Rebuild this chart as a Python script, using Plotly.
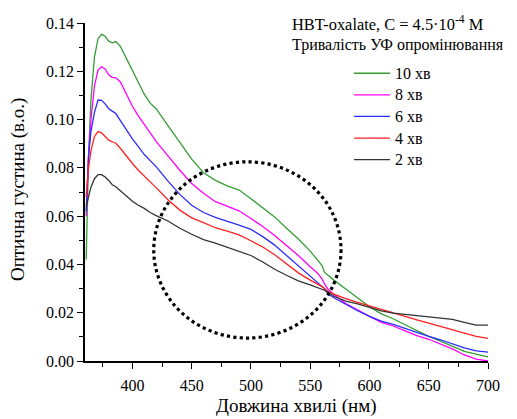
import plotly.graph_objects as go

wavelength = [361, 363, 365, 368, 371, 374, 377, 380, 383, 386, 390, 395, 400, 405, 410, 415, 420,
              430, 440, 450, 460, 470, 480, 490, 500, 510, 520, 530, 540, 550, 556, 560, 562, 565,
              570, 580, 590, 600, 610, 620, 630, 640, 650, 660, 670, 680, 690, 700]

od_10min = [0.042, 0.085, 0.108, 0.126, 0.1335, 0.1353, 0.1345, 0.1325, 0.1318, 0.1323, 0.1302, 0.1252,
            0.1200, 0.1150, 0.1105, 0.1068, 0.1045, 0.0975, 0.0905, 0.0836, 0.0780, 0.0748, 0.0725,
            0.0708, 0.0672, 0.0635, 0.0597, 0.0550, 0.0505, 0.0455, 0.0418, 0.0395, 0.0368, 0.0355,
            0.0335, 0.0298, 0.0260, 0.0225, 0.0195, 0.0175, 0.0150, 0.0125, 0.0102, 0.0082, 0.0060,
            0.0040, 0.0028, 0.0017]

od_8min = [0.060, 0.085, 0.100, 0.114, 0.1205, 0.1219, 0.1210, 0.1185, 0.1175, 0.1173, 0.1155, 0.1105,
           0.1055, 0.1015, 0.0980, 0.0945, 0.0910, 0.0850, 0.0790, 0.0735, 0.0695, 0.0660, 0.0640,
           0.0622, 0.0590, 0.0557, 0.0520, 0.0480, 0.0437, 0.0390, 0.0365, 0.0340, 0.0320, 0.0298,
           0.0275, 0.0238, 0.0210, 0.0185, 0.0160, 0.0145, 0.0125, 0.0105, 0.0090, 0.0070, 0.0050,
           0.0025, 0.0008, 0.0000]

od_6min = [0.062, 0.085, 0.095, 0.103, 0.1081, 0.1080, 0.1065, 0.1045, 0.1035, 0.1025, 0.0995, 0.0955,
           0.0920, 0.0888, 0.0855, 0.0830, 0.0805, 0.0745, 0.0690, 0.0645, 0.0615, 0.0595, 0.0580,
           0.0563, 0.0545, 0.0515, 0.0480, 0.0438, 0.0395, 0.0352, 0.0325, 0.0308, 0.0300, 0.0278,
           0.0262, 0.0235, 0.0208, 0.0185, 0.0165, 0.0152, 0.0135, 0.0117, 0.0102, 0.0088, 0.0070,
           0.0054, 0.0042, 0.0037]

od_4min = [0.068, 0.080, 0.087, 0.093, 0.0950, 0.0945, 0.0930, 0.0915, 0.0908, 0.0902, 0.0880, 0.0848,
           0.0818, 0.0790, 0.0768, 0.0742, 0.0718, 0.0668, 0.0625, 0.0593, 0.0573, 0.0552, 0.0538,
           0.0522, 0.0498, 0.0472, 0.0440, 0.0402, 0.0365, 0.0335, 0.0320, 0.0308, 0.0300, 0.0289,
           0.0277, 0.0258, 0.0243, 0.0228, 0.0212, 0.0200, 0.0185, 0.0170, 0.0157, 0.0143, 0.0128,
           0.0115, 0.0102, 0.0094]

od_2min = [0.064, 0.068, 0.072, 0.0755, 0.0772, 0.0772, 0.0762, 0.0748, 0.0730, 0.0722, 0.0705, 0.0685,
           0.0662, 0.0645, 0.0632, 0.0615, 0.0602, 0.0580, 0.0550, 0.0525, 0.0503, 0.0488, 0.0472,
           0.0455, 0.0437, 0.0410, 0.0380, 0.0355, 0.0332, 0.0315, 0.0305, 0.0298, 0.0293, 0.0285,
           0.0268, 0.0248, 0.0237, 0.0222, 0.0208, 0.0198, 0.0193, 0.0188, 0.0184, 0.0178, 0.0172,
           0.0160, 0.0149, 0.0149]

series_names = ["10 хв", "8 хв", "6 хв", "4 хв", "2 хв"]
series_values = [od_10min, od_8min, od_6min, od_4min, od_2min]
series_colors = ["#349E34", "#FF00FF", "#2B2BFF", "#FF2020", "#333333"]

x_ticks = [400, 450, 500, 550, 600, 650, 700]
y_ticks = [0.00, 0.02, 0.04, 0.06, 0.08, 0.10, 0.12, 0.14]

# highlighted region (dotted circle), in data units
circle_x = [418, 576]
circle_y = [0.0095, 0.0825]

FONT = "Liberation Serif, Times New Roman, DejaVu Serif, serif"

fig = go.Figure()
for name, vals, col in zip(series_names, series_values, series_colors):
    fig.add_trace(go.Scatter(x=wavelength, y=vals, mode="lines",
                             name='<span style="font-size:16px">' + name + '</span>',
                             line=dict(color=col, width=1.3)))

fig.add_shape(type="circle", xref="x", yref="y",
              x0=circle_x[0], x1=circle_x[1], y0=circle_y[0], y1=circle_y[1],
              line=dict(color="black", width=3.2, dash="dot"))

fig.add_annotation(xref="paper", yref="paper", x=0.5087, y=0.9985, xanchor="left", yanchor="middle",
                   text="HBT-oxalate, C = 4.5·10<sup>-4</sup> M", showarrow=False,
                   font=dict(family=FONT, size=16.4, color="black"))
fig.add_annotation(xref="paper", yref="paper", x=0.5087, y=0.935, xanchor="left", yanchor="middle",
                   text="Тривалість УФ опромінювання", showarrow=False,
                   font=dict(family=FONT, size=16, color="black"))
# axis titles
fig.add_annotation(xref="paper", yref="paper", x=0.525, y=-0.133, xanchor="center", yanchor="middle",
                   text="Довжина хвилі (нм)", showarrow=False,
                   font=dict(family=FONT, size=19, color="black"))
fig.add_annotation(xref="paper", yref="paper", x=-0.166, y=0.506, xanchor="center", yanchor="middle",
                   text="Оптична густина (в.о.)", showarrow=False, textangle=-90,
                   font=dict(family=FONT, size=19, color="black"))

axis_common = dict(showline=True, linecolor="black", linewidth=1.5, mirror=False, showgrid=False,
                   zeroline=False, ticks="outside", ticklen=6, tickwidth=1.3, tickcolor="black",
                   automargin=False,
                   tickfont=dict(family=FONT, size=16, color="black"))

fig.update_xaxes(range=[360, 700], tickvals=x_ticks, ticklabelstandoff=3,
                 minor=dict(dtick=25, tick0=375, ticks="outside", ticklen=4, tickwidth=1.2, tickcolor="black"),
                 **axis_common)
fig.update_yaxes(range=[0, 0.14], tickvals=y_ticks, tickformat=".2f",
                 minor=dict(dtick=0.01, tick0=0, ticks="outside", ticklen=4, tickwidth=1.2, tickcolor="black"),
                 **axis_common)

fig.update_layout(
    width=517, height=419,
    margin=dict(l=85, r=29, t=23, b=58, autoexpand=False),
    paper_bgcolor="white", plot_bgcolor="white",
    font=dict(family=FONT, size=16, color="black"),
    showlegend=True,
    legend=dict(x=0.655, y=0.898, xanchor="left", yanchor="top",
                bgcolor="rgba(0,0,0,0)", borderwidth=0,
                font=dict(family=FONT, size=14.3, color="black"),
                tracegroupgap=0, itemwidth=36),
)

fig.write_html("out.html", config={"displayModeBar": False},
               post_script="document.body.style.margin='0px';document.body.style.padding='0px';")
